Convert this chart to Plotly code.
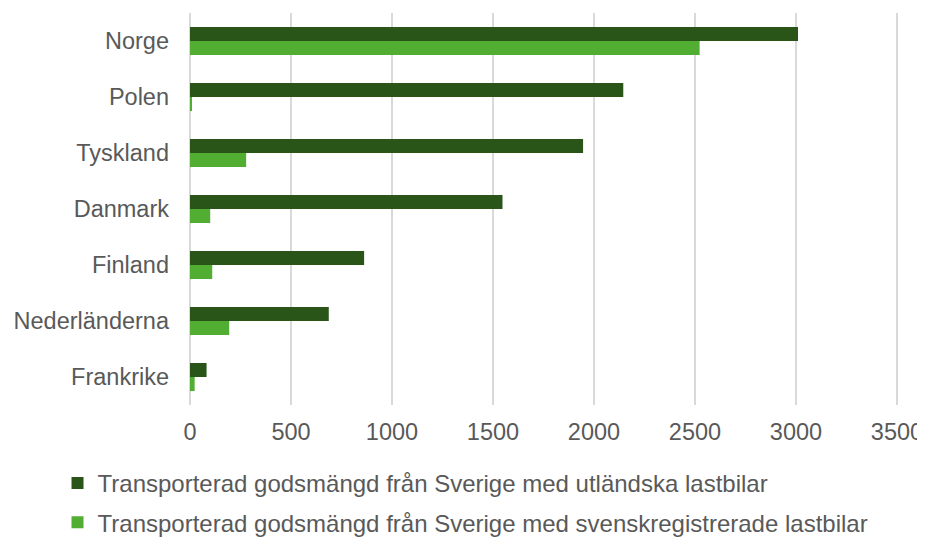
import plotly.graph_objects as go

categories = ["Norge", "Polen", "Tyskland", "Danmark", "Finland", "Nederländerna", "Frankrike"]
utlandska = [3010, 2145, 1946, 1547, 862, 687, 82]
svenska = [2523, 5, 278, 100, 110, 194, 23]
series_names = [
    "Transporterad godsmängd från Sverige med utländska lastbilar",
    "Transporterad godsmängd från Sverige med svenskregistrerade lastbilar",
]
x_ticks = [0, 500, 1000, 1500, 2000, 2500, 3000, 3500]

DARK = "#2A5519"
LIGHT = "#52AE32"
FONT = "Liberation Sans, Arial, sans-serif"
TEXT = "#595959"

fig = go.Figure()
fig.add_trace(go.Bar(y=categories, x=utlandska, orientation="h", name=series_names[0],
                     marker=dict(color=DARK, line=dict(width=0)), legendgroup="a"))
fig.add_trace(go.Bar(y=categories, x=svenska, orientation="h", name=series_names[1],
                     marker=dict(color=LIGHT, line=dict(width=0)), legendgroup="b"))

# page has an 8px body margin, so the figure is sized to fit the 925x539 window
fig.update_layout(
    width=917, height=531,
    margin=dict(l=181, r=25, t=5, b=134, autoexpand=False),
    paper_bgcolor="white", plot_bgcolor="white",
    barmode="group", bargap=0.5, bargroupgap=0,
    font=dict(family=FONT, size=23.5, color=TEXT),
    xaxis=dict(range=[-5, 3515], tickvals=x_ticks, showgrid=True, gridcolor="#D9D9D9",
               gridwidth=1.5, zeroline=False, showline=False, ticks="",
               ticklabelstandoff=10, tickfont=dict(size=23.5, color=TEXT), automargin=False,
               tickangle=0, ticklabeloverflow="allow"),
    yaxis=dict(autorange="reversed", showgrid=False, zeroline=False, showline=False,
               ticks="", ticklabelstandoff=19, tickfont=dict(size=23.5, color=TEXT),
               automargin=False),
    legend=dict(orientation="v", xref="container", yref="container", x=0.054, xanchor="left",
                y=0.147, yanchor="top", font=dict(size=24, color=TEXT), tracegroupgap=5,
                itemclick=False),
    showlegend=True,
)

fig.write_html("out.html")
